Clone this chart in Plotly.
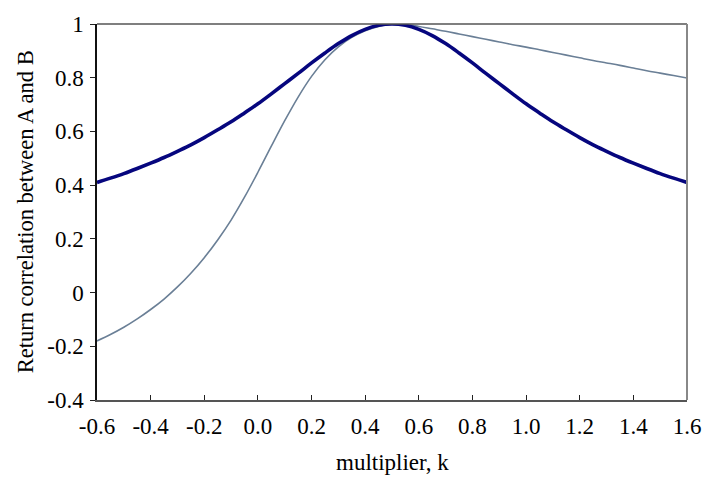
import plotly.graph_objects as go

k_values = [-0.6, -0.55, -0.5, -0.45, -0.4, -0.35, -0.3, -0.25, -0.2, -0.15, -0.1, -0.05,
            0.0, 0.05, 0.1, 0.15, 0.2, 0.25, 0.3, 0.35, 0.4, 0.45, 0.5, 0.55, 0.6, 0.65,
            0.7, 0.75, 0.8, 0.85, 0.9, 0.95, 1.0, 1.05, 1.1, 1.15, 1.2, 1.25, 1.3, 1.35,
            1.4, 1.45, 1.5, 1.55, 1.6]

corr_thick = [0.410, 0.426, 0.443, 0.462, 0.482, 0.503, 0.526, 0.550, 0.577, 0.606, 0.636, 0.669,
              0.703, 0.740, 0.778, 0.816, 0.855, 0.892, 0.927, 0.957, 0.980, 0.995, 1.000, 0.995,
              0.980, 0.957, 0.927, 0.892, 0.855, 0.816, 0.778, 0.740, 0.703, 0.669, 0.636, 0.606,
              0.577, 0.550, 0.526, 0.503, 0.482, 0.462, 0.443, 0.426, 0.410]

corr_thin = [-0.180, -0.156, -0.129, -0.098, -0.063, -0.024, 0.021, 0.072, 0.130, 0.196, 0.270, 0.355,
             0.448, 0.545, 0.640, 0.728, 0.805, 0.867, 0.915, 0.950, 0.975, 0.991, 1.000, 0.998,
             0.991, 0.982, 0.973, 0.963, 0.953, 0.943, 0.933, 0.923, 0.914, 0.904, 0.894, 0.884,
             0.874, 0.864, 0.855, 0.846, 0.836, 0.826, 0.817, 0.808, 0.799]

x_ticks = [-0.6, -0.4, -0.2, 0.0, 0.2, 0.4, 0.6, 0.8, 1.0, 1.2, 1.4, 1.6]
x_tick_text = ["-0.6", "-0.4", "-0.2", "0.0", "0.2", "0.4", "0.6", "0.8", "1.0", "1.2", "1.4", "1.6"]
y_ticks = [-0.4, -0.2, 0, 0.2, 0.4, 0.6, 0.8, 1]
y_tick_text = ["-0.4", "-0.2", "0", "0.2", "0.4", "0.6", "0.8", "1"]

x_title = "multiplier, k"
y_title = "Return correlation between A and B"

font_family = "Liberation Serif"

fig = go.Figure()
fig.add_trace(go.Scatter(x=k_values, y=corr_thin, mode="lines", line=dict(color="#6a7f96", width=1.6, shape="spline"),
                         showlegend=False, hoverinfo="skip"))
fig.add_trace(go.Scatter(x=k_values, y=corr_thick, mode="lines", line=dict(color="#06067e", width=3.6, shape="spline"),
                         showlegend=False, hoverinfo="skip"))

fig.update_layout(
    width=713, height=477,
    margin=dict(l=97, r=15, t=15, b=77),
    paper_bgcolor="white", plot_bgcolor="white",
    font=dict(family=font_family, size=23, color="black"),
    xaxis=dict(range=[-0.6, 1.6], tickvals=x_ticks, ticktext=x_tick_text, showgrid=False, zeroline=False,
               showline=True, linecolor="#555555", linewidth=1.5, ticks="inside", ticklen=5, tickcolor="#222222",
               tickfont=dict(family=font_family, size=23), ticklabelstandoff=5),
    yaxis=dict(range=[-0.4, 1.0], tickvals=y_ticks, ticktext=y_tick_text, showgrid=False, zeroline=False,
               showline=True, linecolor="#111111", linewidth=1.5, ticks="outside", ticklen=5, tickcolor="#222222",
               tickfont=dict(family=font_family, size=23), ticklabelstandoff=2),
    annotations=[
        dict(text=x_title, xref="paper", yref="paper", x=0.5, y=-0.166, xanchor="center", yanchor="middle",
             showarrow=False, font=dict(family=font_family, size=23)),
        dict(text=y_title, xref="paper", yref="paper", x=-0.1215, y=0.5, xanchor="center", yanchor="middle",
             textangle=-90, showarrow=False, font=dict(family=font_family, size=22.5)),
    ],
)
fig.add_shape(type="line", xref="paper", yref="paper", x0=0, x1=1, y0=1, y1=1, line=dict(color="#555555", width=1.5))
fig.add_shape(type="line", xref="paper", yref="paper", x0=1, x1=1, y0=0, y1=1, line=dict(color="#888888", width=2))

fig.write_html("out.html")
